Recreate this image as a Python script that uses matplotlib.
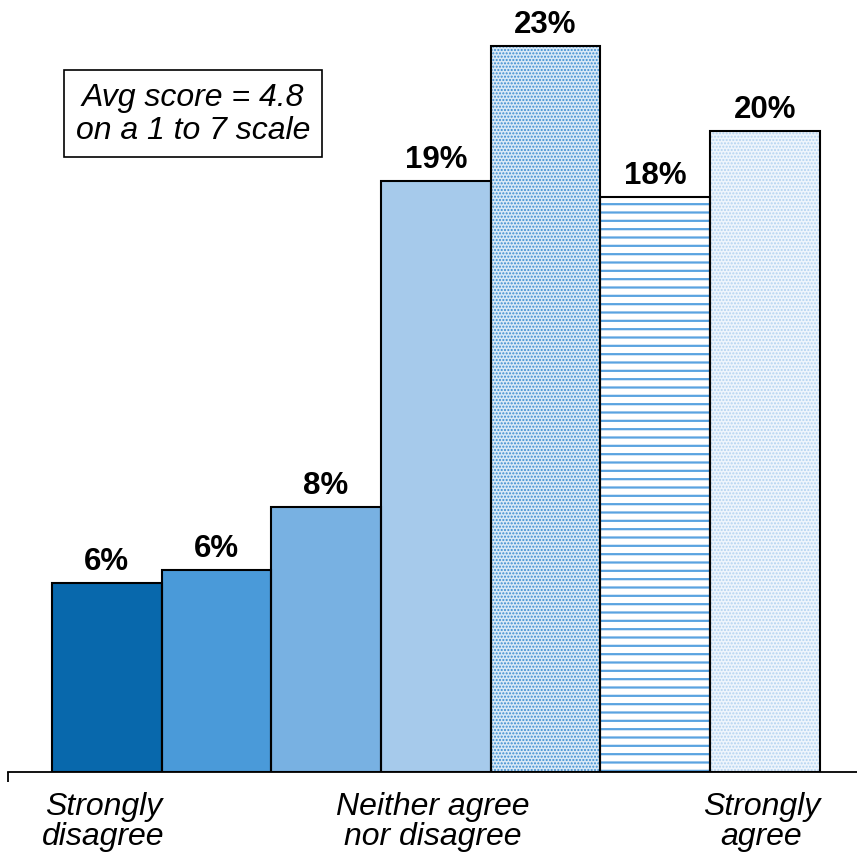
import matplotlib.pyplot as plt
import numpy as np

plt.rcParams['font.family'] = ['Liberation Sans', 'DejaVu Sans']

# survey answers on a 1..7 scale, share of respondents (%)
scale_points = [1, 2, 3, 4, 5, 6, 7]
shares = [6.0, 6.4, 8.4, 18.7, 23.0, 18.2, 20.3]
face_colors = ['#0868ac', '#4a9ad9', '#78b1e2', '#a6caeb', '#d9e9f7', '#ffffff', '#eef5fc']
hatches = [None, None, None, None, '.....', '--', '.....']
hatch_colors = [None, None, None, None, '#3a8cd0', '#5aa3e0', '#b3d3f0']
end_labels = {0: 'Strongly\ndisagree', 3: 'Neither agree\nnor disagree', 6: 'Strongly\nagree'}

fig = plt.figure(figsize=(8.57, 8.54), dpi=100)
ax = fig.add_axes([8 / 857, 81 / 854, 849 / 857, 758 / 854])

x = np.arange(len(scale_points))
for i in range(len(x)):
    if hatches[i]:
        plt.rcParams['hatch.linewidth'] = 1.6 if hatches[i] == '--' else 1.0
        ax.bar(x[i], shares[i], width=1.0, color=face_colors[i], hatch=hatches[i],
               edgecolor=hatch_colors[i], linewidth=0)
    else:
        ax.bar(x[i], shares[i], width=1.0, color=face_colors[i], linewidth=0)
ax.bar(x, shares, width=1.0, fill=False, edgecolor='black', linewidth=1.5)

for i, v in enumerate(shares):
    ax.text(x[i], v + 0.22, f"{v:.0f}%", ha='center', va='bottom',
            fontsize=22.5, fontweight='bold')

for i, lab in end_labels.items():
    ax.text(x[i] - 0.03, -0.6, lab, ha='center', va='top', fontsize=23,
            fontstyle='italic', linespacing=1.0)

ax.text(0.785, 20.85, 'Avg score = 4.8\non a 1 to 7 scale', ha='center', va='center',
        fontsize=23, fontstyle='italic', linespacing=1.1,
        bbox=dict(boxstyle='square,pad=0.38', facecolor='white', edgecolor='black', linewidth=1.2))

ax.set_xlim(-0.9, 6.84)
ax.set_ylim(0, 24)
for s in ['top', 'right', 'left']:
    ax.spines[s].set_visible(False)
ax.spines['bottom'].set_linewidth(1.3)
ax.set_yticks([])
ax.set_xticks([-0.9])
ax.set_xticklabels([''])
ax.tick_params(axis='x', length=7, width=1.3)

fig.savefig('out.png', dpi=100)
